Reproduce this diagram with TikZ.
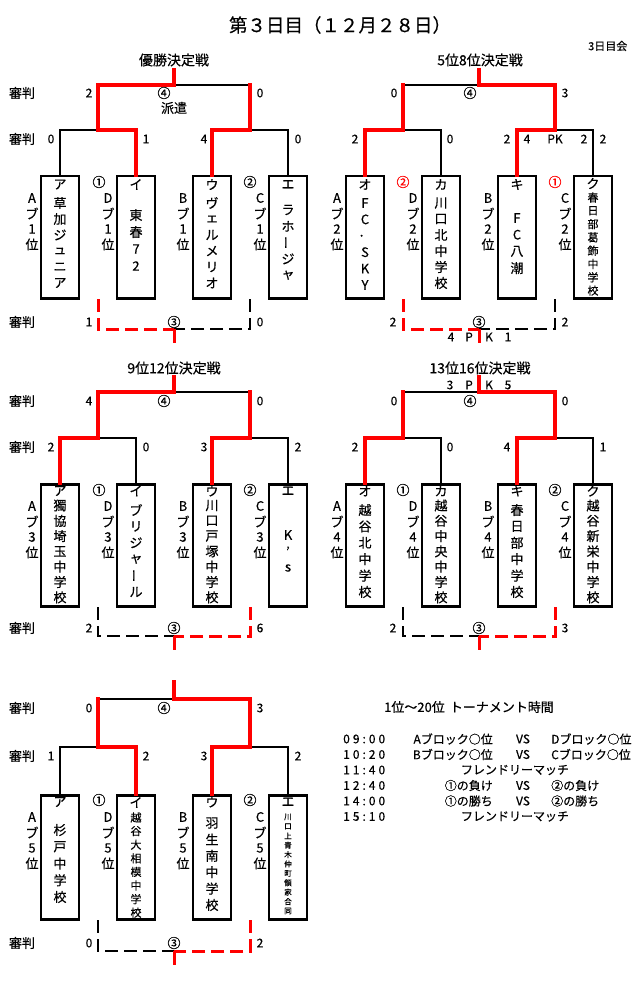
\documentclass[tikz,border=0pt]{standalone}
\usepackage{fontspec}
\usepackage{graphicx}
\setmainfont{Noto Sans CJK JP}[FakeBold=0.4]
\newcommand\fzT{\fontsize{18.5}{20}\selectfont}
\newcommand\fzH{\fontsize{14}{16}\selectfont}
\newcommand\fzB{\fontsize{13}{15}\selectfont}
\newcommand\fzS{\fontsize{12}{14}\selectfont}
\newcommand\fzM{\fontsize{11}{13}\selectfont}
\newcommand\fzX{\fontsize{7.5}{9}\selectfont}
\newcommand\vbar{\rotatebox{90}{ー}}
\newcommand\vcol[6]{\foreach \ch [count=\idx from 0] in {#6} {\node[inner sep=0,font=#5] (#1\idx) at ({#2},{#3+\idx*#4}) {\ch};}}
\newcommand\blk[8]{%
 \coordinate (#1S) at ({#2+174},{#3});
 \coordinate (#1T) at ({#2+174},{#4});
 \coordinate (#1TL) at ({#2+98},{#4});
 \coordinate (#1TR) at ({#2+250},{#4});
 \coordinate (#1ML) at ({#2+98},{#5});
 \coordinate (#1MR) at ({#2+250},{#5});
 \coordinate (#1a) at ({#2+60},{#5});
 \coordinate (#1b) at ({#2+136},{#5});
 \coordinate (#1c) at ({#2+212},{#5});
 \coordinate (#1d) at ({#2+288},{#5});
 \node[team,minimum height=#7pt] (#1A) at ({#2+60},{#6}) {};
 \node[team,minimum height=#7pt] (#1B) at ({#2+136},{#6}) {};
 \node[team,minimum height=#7pt] (#1C) at ({#2+212},{#6}) {};
 \node[team,minimum height=#7pt] (#1D) at ({#2+288},{#6}) {};
 \coordinate (#1UL) at ({#2+98},{#6+#7+2});
 \coordinate (#1UR) at ({#2+250},{#6+#7+2});
 \coordinate (#1DL) at ({#2+98},{#8});
 \coordinate (#1DR) at ({#2+250},{#8});
 \coordinate (#1DM) at ({#2+174},{#8});
 \coordinate (#1DS) at ({#2+174},{#8+14});
}
\begin{document}
\begin{tikzpicture}[x=1pt,y=-1pt,
 bk/.style={draw=black,line width=2pt,line cap=rect},
 rd/.style={draw=red,line width=4pt,line cap=rect},
 bkd/.style={draw=black,line width=2.5pt,dash pattern=on 13pt off 6pt},
 rdd/.style={draw=red,line width=3pt,dash pattern=on 13pt off 6pt},
 rstub/.style={draw=red,line width=3pt},
 team/.style={draw=black,line width=2.5pt,minimum width=38pt,anchor=north,inner sep=0},
 sc/.style={inner sep=0,font=\fzS},
 lb/.style={inner sep=0,font=\fzB},
 hd/.style={inner sep=0,font=\fzH},
 tm/.style={inner sep=0,font=\fzS\addfontfeature{LetterSpace=25},anchor=west},
]
\fill[white] (0,0) rectangle (639,995);
\useasboundingbox (0,0) rectangle (639,995);

\node[inner sep=0,font=\fzT] (title) at (340,25) {第３日目（１２月２８日）};
\node[inner sep=0,font=\fzM,anchor=west] (venue) at (588,46) {3日目会};

\blk{p1}{0}{70}{85}{130}{175}{122}{329}
\blk{p2}{305}{70}{85}{130}{175}{122}{329}
\blk{p3}{0}{377}{392}{438}{483}{122}{636}
\blk{p4}{305}{377}{392}{438}{483}{122}{636}
\blk{p5}{0}{682}{699}{747}{794}{124}{951}

% ---------- block 1
\draw[bk] (p1T)--(p1TR);
\draw[bk] (p1ML)--(p1a)--(p1A.north);
\draw[bk] (p1MR)--(p1d)--(p1D.north);
\draw[rd] (p1S)--(p1T)--(p1TL)--(p1ML)--(p1b)--(p1B.north);
\draw[rd] (p1TR)--(p1MR)--(p1c)--(p1C.north);
\draw[bkd] (p1UR)--(p1DR)--(p1DM);
\draw[rdd] (p1UL)--(p1DL)--(p1DM);
\draw[rstub] (p1DM)--(p1DS);
% ---------- block 2
\draw[bk] (p2T)--(p2TL);
\draw[bk] (p2ML)--(p2b)--(p2B.north);
\draw[bk] (p2MR)--(p2d)--(p2D.north);
\draw[rd] (p2S)--(p2T)--(p2TR)--(p2MR)--(p2c)--(p2C.north);
\draw[rd] (p2TL)--(p2ML)--(p2a)--(p2A.north);
\draw[bkd] (p2UR)--(p2DR)--(p2DM);
\draw[rdd] (p2UL)--(p2DL)--(p2DM);
\draw[rstub] (p2DM)--(p2DS);
% ---------- block 3
\draw[bk] (p3T)--(p3TR);
\draw[bk] (p3ML)--(p3b)--(p3B.north);
\draw[bk] (p3MR)--(p3d)--(p3D.north);
\draw[rd] (p3S)--(p3T)--(p3TL)--(p3ML)--(p3a)--(p3A.north);
\draw[rd] (p3TR)--(p3MR)--(p3c)--(p3C.north);
\draw[bkd] (p3UL)--(p3DL)--(p3DM);
\draw[rdd] (p3UR)--(p3DR)--(p3DM);
\draw[rstub] (p3DM)--(p3DS);
% ---------- block 4
\draw[bk] (p4T)--(p4TL);
\draw[bk] (p4ML)--(p4b)--(p4B.north);
\draw[bk] (p4MR)--(p4d)--(p4D.north);
\draw[rd] (p4S)--(p4T)--(p4TR)--(p4MR)--(p4c)--(p4C.north);
\draw[rd] (p4TL)--(p4ML)--(p4a)--(p4A.north);
\draw[bkd] (p4UL)--(p4DL)--(p4DM);
\draw[rdd] (p4UR)--(p4DR)--(p4DM);
\draw[rstub] (p4DM)--(p4DS);
% ---------- block 5
\draw[bk] (p5T)--(p5TL);
\draw[bk] (p5ML)--(p5a)--(p5A.north);
\draw[bk] (p5MR)--(p5d)--(p5D.north);
\draw[rd] (p5S)--(p5T)--(p5TR)--(p5MR)--(p5c)--(p5C.north);
\draw[rd] (p5TL)--(p5ML)--(p5b)--(p5B.north);
\draw[bkd] (p5UL)--(p5DL)--(p5DM);
\draw[rdd] (p5UR)--(p5DR)--(p5DM);
\draw[rstub] (p5DM)--(p5DS);

% ---------- titles
\node[hd] (h1) at (174,60) {優勝決定戦};
\node[hd] (h2) at (480,60) {5位8位決定戦};
\node[hd] (h3) at (174,368) {9位12位決定戦};
\node[hd] (h4) at (480,368) {13位16位決定戦};

% ---------- referee labels
\foreach \yy [count=\jj] in {93,139,322,401,447,628,708,756,943}
  \node[lb] (ref\jj) at (22,\yy) {審判};

% ---------- block 1 scores
\node[sc] (s1a) at (89,93) {2};
\node[lb] (s1r4) at (164,93) {④};
\node[sc] (s1b) at (260,93) {0};
\node[lb] (s1h) at (174,108) {派遣};
\node[sc] (s1c) at (51,139) {0};
\node[sc] (s1d) at (146,139) {1};
\node[sc] (s1e) at (204,139) {4};
\node[sc] (s1f) at (298,139) {0};
\node[sc] (s1g) at (89,322) {1};
\node[lb] (s1r3) at (174,322) {③};
\node[sc] (s1i) at (260,322) {0};
% ---------- block 2 scores
\node[sc] (s2a) at (394,93) {0};
\node[lb] (s2r4) at (470,93) {④};
\node[sc] (s2b) at (565,93) {3};
\node[sc] (s2c) at (355,139) {2};
\node[sc] (s2d) at (450,139) {0};
\node[sc] (s2e) at (507,139) {2};
\node[sc] (s2e2) at (527,139) {4};
\node[sc] (s2pk) at (555,139) {PK};
\node[sc] (s2f2) at (584,139) {2};
\node[sc] (s2f) at (603,139) {2};
\node[sc] (s2g) at (393,322) {2};
\node[lb] (s2r3) at (479,322) {③};
\node[sc] (s2i) at (565,322) {2};
\node[sc] (s2k1) at (451,337) {4};
\node[sc] (s2k2) at (469,337) {P};
\node[sc] (s2k3) at (489,337) {K};
\node[sc] (s2k4) at (508,337) {1};
% ---------- block 3 scores
\node[sc] (s3a) at (89,401) {4};
\node[lb] (s3r4) at (164,401) {④};
\node[sc] (s3b) at (260,401) {0};
\node[sc] (s3c) at (51,447) {2};
\node[sc] (s3d) at (146,447) {0};
\node[sc] (s3e) at (204,447) {3};
\node[sc] (s3f) at (298,447) {2};
\node[sc] (s3g) at (89,628) {2};
\node[lb] (s3r3) at (174,628) {③};
\node[sc] (s3i) at (260,628) {6};
% ---------- block 4 scores
\node[sc] (s4k1) at (450,385) {3};
\node[sc] (s4k2) at (469,385) {P};
\node[sc] (s4k3) at (489,385) {K};
\node[sc] (s4k4) at (508,385) {5};
\node[sc] (s4a) at (394,401) {0};
\node[lb] (s4r4) at (470,401) {④};
\node[sc] (s4b) at (565,401) {0};
\node[sc] (s4c) at (355,447) {2};
\node[sc] (s4d) at (450,447) {0};
\node[sc] (s4e) at (507,447) {4};
\node[sc] (s4f) at (603,447) {1};
\node[sc] (s4g) at (393,628) {2};
\node[lb] (s4r3) at (479,628) {③};
\node[sc] (s4i) at (565,628) {3};
% ---------- block 5 scores
\node[sc] (s5a) at (89,708) {0};
\node[lb] (s5r4) at (164,708) {④};
\node[sc] (s5b) at (260,708) {3};
\node[sc] (s5c) at (51,756) {1};
\node[sc] (s5d) at (146,756) {2};
\node[sc] (s5e) at (204,756) {3};
\node[sc] (s5f) at (298,756) {2};
\node[sc] (s5g) at (89,943) {0};
\node[lb] (s5r3) at (174,943) {③};
\node[sc] (s5i) at (260,943) {2};

% ---------- circled match numbers near boxes
\node[lb] (m1a) at (99,182) {①};
\node[lb] (m1b) at (250,182) {②};
\node[lb,text=red] (m2a) at (403,182) {②};
\node[lb,text=red] (m2b) at (555,182) {①};
\node[lb] (m3a) at (99,490) {①};
\node[lb] (m3b) at (250,490) {②};
\node[lb] (m4a) at (403,490) {①};
\node[lb] (m4b) at (555,490) {②};
\node[lb] (m5a) at (99,800) {①};
\node[lb] (m5b) at (250,800) {②};

% ---------- side labels (block / rank)
\vcol{l1a}{32}{198}{15.5}{\fzB}{A,ブ,1,位}
\vcol{l1b}{108}{198}{15.5}{\fzB}{D,ブ,1,位}
\vcol{l1c}{183}{198}{15.5}{\fzB}{B,ブ,1,位}
\vcol{l1d}{260}{198}{15.5}{\fzB}{C,ブ,1,位}
\vcol{l2a}{337}{198}{15.5}{\fzB}{A,ブ,2,位}
\vcol{l2b}{413}{198}{15.5}{\fzB}{D,ブ,2,位}
\vcol{l2c}{488}{198}{15.5}{\fzB}{B,ブ,2,位}
\vcol{l2d}{565}{198}{15.5}{\fzB}{C,ブ,2,位}
\vcol{l3a}{32}{506}{15.5}{\fzB}{A,ブ,3,位}
\vcol{l3b}{108}{506}{15.5}{\fzB}{D,ブ,3,位}
\vcol{l3c}{183}{506}{15.5}{\fzB}{B,ブ,3,位}
\vcol{l3d}{260}{506}{15.5}{\fzB}{C,ブ,3,位}
\vcol{l4a}{337}{506}{15.5}{\fzB}{A,ブ,4,位}
\vcol{l4b}{413}{506}{15.5}{\fzB}{D,ブ,4,位}
\vcol{l4c}{488}{506}{15.5}{\fzB}{B,ブ,4,位}
\vcol{l4d}{565}{506}{15.5}{\fzB}{C,ブ,4,位}
\vcol{l5a}{32}{817}{15.5}{\fzB}{A,ブ,5,位}
\vcol{l5b}{108}{817}{15.5}{\fzB}{D,ブ,5,位}
\vcol{l5c}{183}{817}{15.5}{\fzB}{B,ブ,5,位}
\vcol{l5d}{260}{817}{15.5}{\fzB}{C,ブ,5,位}

% ---------- team names, block 1
\node[lb] (k1a) at (60,184.5) {ア};
\vcol{t1a}{60}{203}{16}{\fzB}{草,加,ジ,ュ,ニ,ア}
\node[lb] (k1b) at (136,184.5) {イ};
\vcol{t1b}{136}{215}{17}{\fzB}{東,春,7,2}
\node[lb] (k1c) at (212,184.5) {ウ};
\vcol{t1c}{212}{203}{16}{\fzB}{ヴ,ェ,ル,メ,リ,オ}
\node[lb] (k1d) at (288,184.5) {エ};
\vcol{t1d}{288}{210}{16.3}{\fzB}{ラ,ホ,\vbar,ジ,ャ}
% ---------- block 2
\node[lb] (k2a) at (365,184.5) {オ};
\vcol{t2a}{365}{203}{16.4}{\fzB}{F,C,．,S,K,Y}
\node[lb] (k2b) at (441,184.5) {カ};
\vcol{t2b}{441}{203}{16}{\fzB}{川,口,北,中,学,校}
\node[lb] (k2c) at (517,184.5) {キ};
\vcol{t2c}{517}{218}{16.7}{\fzB}{F,C,八,潮}
\node[lb] (k2d) at (593,183.5) {ク};
\vcol{t2d}{593}{197.5}{13.3}{\fzM}{春,日,部,葛,飾,中,学,校}
% ---------- block 3
\node[lb] (k3a) at (60,491) {ア};
\vcol{t3a}{60}{505.5}{15.3}{\fzB}{獨,協,埼,玉,中,学,校}
\node[lb] (k3b) at (136,491) {イ};
\vcol{t3b}{136}{510}{16.4}{\fzB}{ブ,リ,ジ,ャ,\vbar,ル}
\node[lb] (k3c) at (212,491) {ウ};
\vcol{t3c}{212}{505.5}{15.3}{\fzB}{川,口,戸,塚,中,学,校}
\node[lb] (k3d) at (288,491) {エ};
\vcol{t3d}{288}{535}{16.5}{\fzB}{K,’,s}
% ---------- block 4
\node[lb] (k4a) at (365,491) {オ};
\vcol{t4a}{365}{510}{16.4}{\fzB}{越,谷,北,中,学,校}
\node[lb] (k4b) at (441,491) {カ};
\vcol{t4b}{441}{505.5}{15.3}{\fzB}{越,谷,中,央,中,学,校}
\node[lb] (k4c) at (517,491) {キ};
\vcol{t4c}{517}{510}{16.4}{\fzB}{春,日,部,中,学,校}
\node[lb] (k4d) at (593,491) {ク};
\vcol{t4d}{593}{505.5}{15.3}{\fzB}{越,谷,新,栄,中,学,校}
% ---------- block 5
\node[lb] (k5a) at (60,802) {ア};
\vcol{t5a}{60}{830}{16.75}{\fzB}{杉,戸,中,学,校}
\node[lb] (k5b) at (136,802.5) {イ};
\vcol{t5b}{136}{817.5}{13.6}{\fzM}{越,谷,大,相,模,中,学,校}
\node[lb] (k5c) at (212,802) {ウ};
\vcol{t5c}{212}{823}{16.4}{\fzB}{羽,生,南,中,学,校}
\node[lb] (k5d) at (288,802) {エ};
\vcol{t5d}{288}{817}{9.4}{\fzX}{川,口,上,青,木,仲,町,領,家,合,同}

% ---------- schedule
\node[lb] (sch) at (469,707) {1位～20位\hspace{5pt}トーナメント時間};
\node[tm] (tA) at (343,739) {09:00};
\node[tm] (tB) at (343,754.5) {10:20};
\node[tm] (tC) at (343,770) {11:40};
\node[tm] (tD) at (343,785.5) {12:40};
\node[tm] (tE) at (343,801) {14:00};
\node[tm] (tF) at (343,816.5) {15:10};
\node[sc,anchor=east] (gA1) at (493,739) {Aブロック○位};
\node[sc] (vA) at (523,739) {VS};
\node[sc,anchor=west] (gA2) at (551,739) {Dブロック○位};
\node[sc,anchor=east] (gB1) at (493,754.5) {Bブロック○位};
\node[sc] (vB) at (523,754.5) {VS};
\node[sc,anchor=west] (gB2) at (551,754.5) {Cブロック○位};
\node[sc] (gC) at (515,770) {フレンドリーマッチ};
\node[sc,anchor=east] (gD1) at (493,785.5) {①の負け};
\node[sc] (vD) at (523,785.5) {VS};
\node[sc,anchor=west] (gD2) at (551,785.5) {②の負け};
\node[sc,anchor=east] (gE1) at (493,801) {①の勝ち};
\node[sc] (vE) at (523,801) {VS};
\node[sc,anchor=west] (gE2) at (551,801) {②の勝ち};
\node[sc] (gF) at (515,816.5) {フレンドリーマッチ};
\end{tikzpicture}
\end{document}
